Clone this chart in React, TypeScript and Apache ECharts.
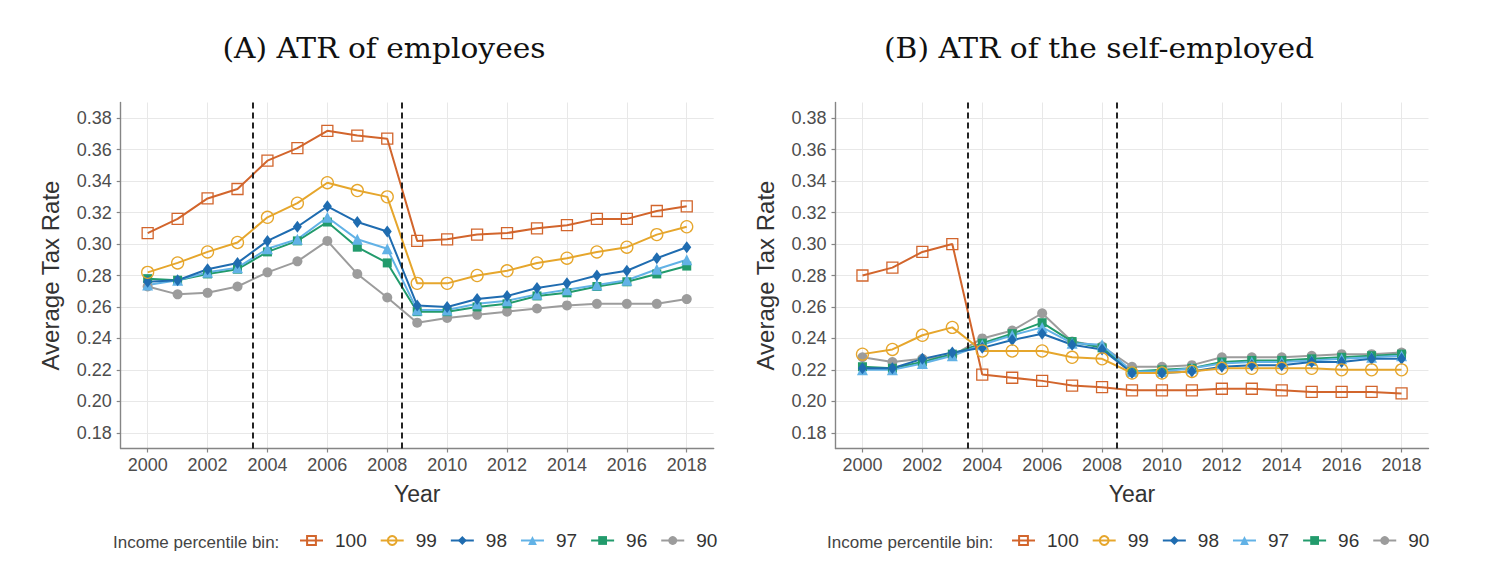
import React, { useEffect, useRef } from "react";
import * as echarts from "echarts";

const years = [2000, 2001, 2002, 2003, 2004, 2005, 2006, 2007, 2008, 2009, 2010, 2011, 2012, 2013, 2014, 2015, 2016, 2017, 2018];
const xTicks = [2000, 2002, 2004, 2006, 2008, 2010, 2012, 2014, 2016, 2018];
const yTicks = [0.18, 0.2, 0.22, 0.24, 0.26, 0.28, 0.3, 0.32, 0.34, 0.36, 0.38];
const reformYears = [2003.5, 2008.5];
const binNames = ["100", "99", "98", "97", "96", "90"];

// (A) employees
const emp100 = [0.307, 0.316, 0.329, 0.335, 0.353, 0.361, 0.372, 0.369, 0.367, 0.302, 0.303, 0.306, 0.307, 0.31, 0.312, 0.316, 0.316, 0.321, 0.324];
const emp99 = [0.282, 0.288, 0.295, 0.301, 0.317, 0.326, 0.339, 0.334, 0.33, 0.275, 0.275, 0.28, 0.283, 0.288, 0.291, 0.295, 0.298, 0.306, 0.311];
const emp98 = [0.276, 0.277, 0.284, 0.288, 0.302, 0.311, 0.324, 0.314, 0.308, 0.261, 0.26, 0.265, 0.267, 0.272, 0.275, 0.28, 0.283, 0.291, 0.298];
const emp97 = [0.274, 0.277, 0.282, 0.285, 0.297, 0.303, 0.317, 0.303, 0.297, 0.258, 0.258, 0.262, 0.264, 0.268, 0.271, 0.274, 0.277, 0.284, 0.29];
const emp96 = [0.278, 0.277, 0.281, 0.284, 0.295, 0.302, 0.314, 0.298, 0.288, 0.257, 0.257, 0.26, 0.262, 0.267, 0.269, 0.273, 0.276, 0.281, 0.286];
const emp90 = [0.273, 0.268, 0.269, 0.273, 0.282, 0.289, 0.302, 0.281, 0.266, 0.25, 0.253, 0.255, 0.257, 0.259, 0.261, 0.262, 0.262, 0.262, 0.265];

// (B) self-employed
const self100 = [0.28, 0.285, 0.295, 0.3, 0.217, 0.215, 0.213, 0.21, 0.209, 0.207, 0.207, 0.207, 0.208, 0.208, 0.207, 0.206, 0.206, 0.206, 0.205];
const self99 = [0.23, 0.233, 0.242, 0.247, 0.232, 0.232, 0.232, 0.228, 0.227, 0.218, 0.218, 0.219, 0.221, 0.221, 0.221, 0.221, 0.22, 0.22, 0.22];
const self98 = [0.221, 0.221, 0.227, 0.231, 0.234, 0.239, 0.243, 0.236, 0.233, 0.218, 0.218, 0.219, 0.222, 0.223, 0.223, 0.225, 0.225, 0.227, 0.227];
const self97 = [0.22, 0.22, 0.224, 0.229, 0.236, 0.242, 0.247, 0.237, 0.236, 0.219, 0.219, 0.221, 0.224, 0.225, 0.225, 0.226, 0.227, 0.228, 0.229];
const self96 = [0.222, 0.221, 0.225, 0.23, 0.237, 0.243, 0.25, 0.238, 0.234, 0.219, 0.22, 0.221, 0.225, 0.226, 0.226, 0.227, 0.228, 0.229, 0.23];
const self90 = [0.228, 0.225, 0.227, 0.229, 0.24, 0.245, 0.256, 0.238, 0.235, 0.222, 0.222, 0.223, 0.228, 0.228, 0.228, 0.229, 0.23, 0.23, 0.231];

const empData: Record<string, number[]> = { "100": emp100, "99": emp99, "98": emp98, "97": emp97, "96": emp96, "90": emp90 };
const selfData: Record<string, number[]> = { "100": self100, "99": self99, "98": self98, "97": self97, "96": self96, "90": self90 };

const styles: Record<string, any> = {
  "100": { color: "#D2652C", symbol: "rect", size: 11, hollow: true },
  "99": { color: "#E6A62C", symbol: "circle", size: 12, hollow: true },
  "98": { color: "#1F6CB0", symbol: "diamond", size: [9, 12], hollow: false },
  "97": { color: "#62B2E6", symbol: "triangle", size: 11, hollow: false },
  "96": { color: "#229B6C", symbol: "rect", size: 9, hollow: false },
  "90": { color: "#9C9C9C", symbol: "circle", size: 10, hollow: false },
};

const FONT = "'Liberation Sans', Arial, sans-serif";

function makeSeries(name: string, values: number[], idx: number, withMarks: boolean) {
  const st = styles[name];
  const s: any = {
    type: "line",
    name,
    xAxisIndex: idx,
    yAxisIndex: idx,
    data: years.map((y, i) => [y, values[i]]),
    symbol: st.symbol,
    symbolSize: st.size,
    showAllSymbol: true,
    lineStyle: { color: st.color, width: 2 },
    itemStyle: st.hollow
      ? { color: "rgba(255,255,255,0)", borderColor: st.color, borderWidth: 1.3 }
      : { color: st.color, borderWidth: 0 },
    emphasis: { disabled: true },
  };
  if (withMarks) {
    s.markLine = {
      silent: true,
      symbol: ["none", "none"],
      label: { show: false },
      lineStyle: { color: "#1a1a1a", width: 1.9, type: [6, 4] },
      data: reformYears.map((x) => ({ xAxis: x })),
    };
  }
  return s;
}

function makeX(idx: number) {
  return {
    type: "value",
    gridIndex: idx,
    min: 1999.1,
    max: 2018.9,
    name: "Year",
    nameLocation: "middle",
    nameGap: 34,
    nameTextStyle: { fontFamily: FONT, fontSize: 23, color: "#333" },
    axisLine: { show: true, lineStyle: { color: "#858585", width: 1.4 } },
    axisTick: { show: true, length: 4, customValues: xTicks, lineStyle: { color: "#858585", width: 1.2 } },
    axisLabel: { customValues: xTicks, margin: 7, fontFamily: FONT, fontSize: 18, color: "#4d4d4d", formatter: (v: number) => String(v) },
    splitLine: { show: true, lineStyle: { color: "#e8e8e8", width: 1 } },
  };
}

function makeY(idx: number) {
  return {
    type: "value",
    gridIndex: idx,
    min: 0.17,
    max: 0.39,
    name: "Average Tax Rate",
    nameLocation: "middle",
    nameGap: 58,
    nameTextStyle: { fontFamily: FONT, fontSize: 24, color: "#333" },
    axisLine: { show: true, lineStyle: { color: "#858585", width: 1.4 } },
    axisTick: { show: true, length: 4, customValues: yTicks, lineStyle: { color: "#858585", width: 1.2 } },
    axisLabel: { customValues: yTicks, margin: 9, fontFamily: FONT, fontSize: 18, color: "#4d4d4d", formatter: (v: number) => v.toFixed(2) },
    splitLine: { show: true, lineStyle: { color: "#e8e8e8", width: 1 } },
  };
}

function makeLegend(left: number) {
  return {
    left,
    top: 531,
    padding: 0,
    orient: "horizontal",
    itemWidth: 23,
    itemHeight: 11,
    itemGap: 13,
    selectedMode: false,
    data: binNames,
    textStyle: { fontFamily: FONT, fontSize: 19, color: "#333", padding: [0, 0, 0, 7] },
  };
}

export default function App() {
  const ref = useRef<HTMLDivElement>(null);
  useEffect(() => {
    if (!ref.current) return;
    const chart = echarts.init(ref.current, undefined, { renderer: "svg" });
    const drawOrder = [...binNames].reverse();
    const series: any[] = [];
    drawOrder.forEach((n, i) => series.push(makeSeries(n, empData[n], 0, i === 0)));
    drawOrder.forEach((n, i) => series.push(makeSeries(n, selfData[n], 1, i === 0)));
    chart.setOption({
      animation: false,
      backgroundColor: "#fff",
      grid: [
        { left: 120.7, top: 102.5, width: 593, height: 346, containLabel: false },
        { left: 835.5, top: 102.5, width: 593, height: 346, containLabel: false },
      ],
      xAxis: [makeX(0), makeX(1)],
      yAxis: [makeY(0), makeY(1)],
      legend: [makeLegend(299), makeLegend(1011)],
      graphic: [
        { type: "text", x: 384, y: 49, scaleX: 1.1, style: { text: "(A) ATR of employees", font: "27px 'DejaVu Serif', serif", fill: "#111", align: "center", verticalAlign: "middle" } },
        { type: "text", x: 1099, y: 49, scaleX: 1.1, style: { text: "(B) ATR of the self-employed", font: "27px 'DejaVu Serif', serif", fill: "#111", align: "center", verticalAlign: "middle" } },
        { type: "text", x: 113, y: 542, style: { text: "Income percentile bin:", font: "17px 'Liberation Sans', Arial, sans-serif", fill: "#444", align: "left", verticalAlign: "middle" } },
        { type: "text", x: 827, y: 542, style: { text: "Income percentile bin:", font: "17px 'Liberation Sans', Arial, sans-serif", fill: "#444", align: "left", verticalAlign: "middle" } },
      ],
      series,
    });
    return () => chart.dispose();
  }, []);
  return <div ref={ref} style={{ position: "fixed", left: 0, top: 0, width: 1491, height: 568 }} />;
}
